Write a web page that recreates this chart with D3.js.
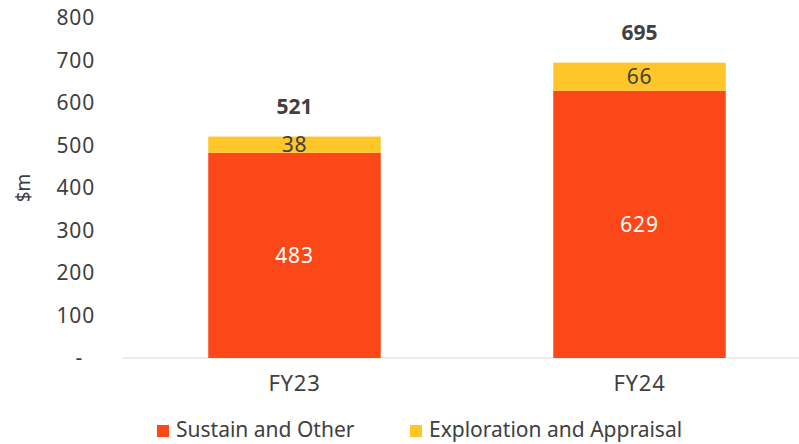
<!DOCTYPE html>
<html>
<head>
<meta charset="utf-8">
<script src="https://d3js.org/d3.v7.min.js"></script>
<style>
    body { margin: 0; background: #fff; }
    svg { font-family: "Noto Sans", sans-serif; }
</style>
</head>
<body>
<svg></svg>
<script>
    // Data
    const years = ["FY23", "FY24"]
    const sustain = [483, 629]
    const exploration = [38, 66]
    const totals = [521, 695]
    const yTicks = [0, 100, 200, 300, 400, 500, 600, 700, 800]
    const seriesNames = ["Sustain and Other", "Exploration and Appraisal"]
    const colors = ["#FC4719", "#FFC629"]

    const width = 799, height = 444
    const fontSize = "21px"
    const svg = d3.select("svg").attr("width", width).attr("height", height)

    const x = d3.scaleBand().domain(years).range([122, 812]).paddingInner(0.5).paddingOuter(0.25)
    const y = d3.scaleLinear().domain([0, 800]).range([358, 18])

    // y axis labels
    const yAxis = svg.append("g")
        .attr("transform", "translate(95,0)")
        .call(d3.axisLeft(y).tickValues(yTicks).tickSize(0).tickPadding(0)
            .tickFormat(d => d === 0 ? "-" : d))
    yAxis.select(".domain").remove()
    yAxis.selectAll("text")
        .attr("fill", "#404040")
        .style("font-size", fontSize)
        .style("letter-spacing", "0.8px")
        .style("font-family", "'Noto Sans', sans-serif")
    yAxis.selectAll(".tick").filter(d => d === 0).select("text").attr("dx", -12)

    svg.append("text")
        .attr("transform", "translate(30," + y(400) + ") rotate(-90)")
        .attr("text-anchor", "middle")
        .attr("fill", "#404040")
        .style("font-size", "19px")
        .text("$m")

    // baseline
    svg.append("line")
        .attr("x1", 122).attr("x2", width)
        .attr("y1", y(0)).attr("y2", y(0))
        .attr("stroke", "#d9d9d9").attr("stroke-width", 1)

    // x axis labels
    const xAxis = svg.append("g")
        .attr("transform", "translate(0," + y(0) + ")")
        .call(d3.axisBottom(x).tickSize(0).tickPadding(17))
    xAxis.select(".domain").remove()
    xAxis.selectAll("text")
        .attr("fill", "#404040")
        .style("font-size", "22px")
        .style("letter-spacing", "0.8px")
        .style("font-family", "'Noto Sans', sans-serif")

    // bars
    const g = svg.append("g")
    g.selectAll(".sustain").data(sustain).enter().append("rect")
        .attr("x", (d, i) => x(years[i]))
        .attr("width", x.bandwidth())
        .attr("y", d => y(d))
        .attr("height", d => y(0) - y(d))
        .attr("fill", colors[0])
    g.selectAll(".explore").data(exploration).enter().append("rect")
        .attr("x", (d, i) => x(years[i]))
        .attr("width", x.bandwidth())
        .attr("y", (d, i) => y(sustain[i] + d))
        .attr("height", d => y(0) - y(d))
        .attr("fill", colors[1])

    // value labels
    g.selectAll(".lblS").data(sustain).enter().append("text")
        .attr("x", (d, i) => x(years[i]) + x.bandwidth() / 2)
        .attr("y", d => y(d / 2))
        .attr("dy", "0.35em")
        .attr("text-anchor", "middle")
        .attr("fill", "#fff")
        .style("font-size", fontSize)
        .style("letter-spacing", "0.8px")
        .text(d => d)
    g.selectAll(".lblE").data(exploration).enter().append("text")
        .attr("x", (d, i) => x(years[i]) + x.bandwidth() / 2)
        .attr("y", (d, i) => y(sustain[i] + d / 2))
        .attr("dy", "0.35em")
        .attr("text-anchor", "middle")
        .attr("fill", "#404040")
        .style("font-size", fontSize)
        .style("letter-spacing", "0.8px")
        .text(d => d)
    g.selectAll(".lblT").data(totals).enter().append("text")
        .attr("x", (d, i) => x(years[i]) + x.bandwidth() / 2)
        .attr("y", d => y(d) - 23)
        .attr("text-anchor", "middle")
        .attr("fill", "#404040")
        .style("font-size", "21px")
        .style("font-weight", "bold")
        .text(d => d)

    // legend
    const legendX = [157, 410]
    const legend = svg.append("g")
    seriesNames.forEach((name, i) => {
        legend.append("rect")
            .attr("x", legendX[i]).attr("y", 425)
            .attr("width", 12).attr("height", 12)
            .attr("fill", colors[i])
        legend.append("text")
            .attr("x", legendX[i] + 19).attr("y", 437)
            .attr("fill", "#404040")
            .style("font-size", fontSize)
            .text(name)
    })
</script>
</body>
</html>
